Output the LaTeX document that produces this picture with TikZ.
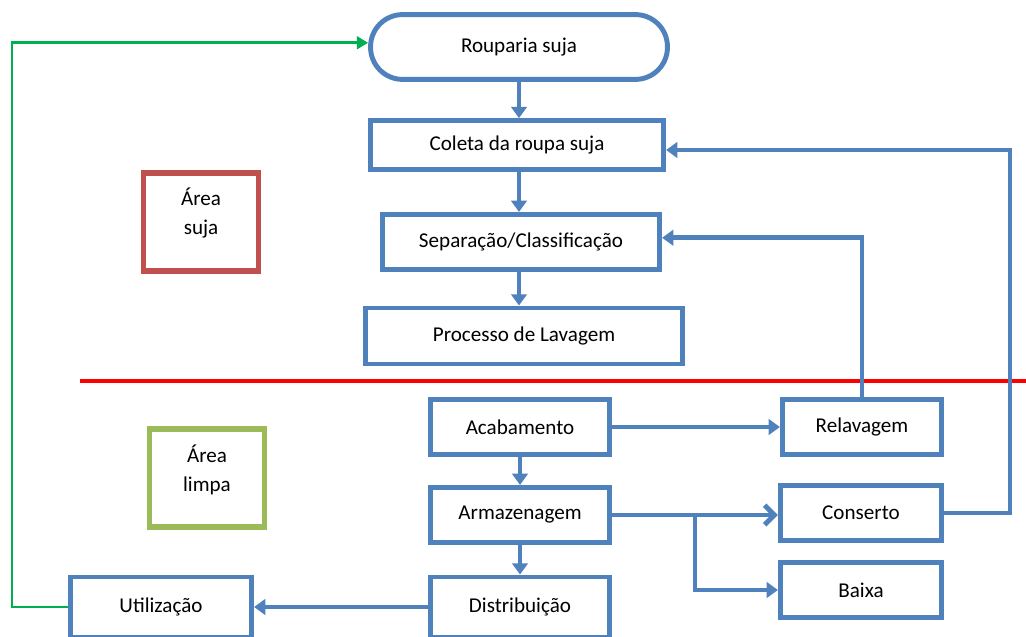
\documentclass[tikz,border=0pt]{standalone}
\usepackage{fontspec}
\setmainfont{Carlito}
\usetikzlibrary{arrows.meta}
\definecolor{flowblue}{HTML}{4F81BD}
\definecolor{sujared}{HTML}{C0504D}
\definecolor{limpagreen}{HTML}{9BBB59}
\definecolor{backgreen}{HTML}{00B050}
\tikzset{
  etapa/.style={draw=flowblue, line width=3.5pt, fill=white, align=center,
    font=\fontsize{15}{18}\selectfont, minimum height=1.38cm},
  area/.style={line width=3.8pt, minimum width=2.88cm, minimum height=2.45cm},
  areatexto/.style={align=center, font=\fontsize{15}{21}\selectfont},
  seta/.style={draw=flowblue, line width=3.5pt, -{Triangle[length=8pt,width=11pt]}},
  linha/.style={draw=flowblue, line width=3.5pt},
}
\begin{document}
\begin{tikzpicture}[x=0.025cm,y=-0.025cm]
            \useasboundingbox (0,0) rectangle (1026,637);

            \node[etapa, rounded corners=0.8cm, minimum width=7.42cm, minimum height=1.62cm] (roup) at (519,47) {Rouparia suja};
            \node[etapa, minimum width=7.33cm, minimum height=1.22cm] (col) at (517,145) {Coleta da roupa suja};
            \node[etapa, minimum width=6.93cm] (sep) at (521,242) {Separação/Classificação};
            \node[etapa, minimum width=7.93cm, minimum height=1.4cm] (lav) at (524,336) {Processo de Lavagem};

            \node[etapa, minimum width=4.48cm] (acab) at (520,427) {Acabamento};
            \node[etapa, minimum width=3.98cm] (relav) at (862,427) {Relavagem};
            \node[etapa, minimum width=4.48cm] (arm) at (520,515) {Armazenagem};
            \node[etapa, minimum width=4.03cm] (cons) at (861,513) {Conserto};
            \node[etapa, minimum width=4.03cm] (baixa) at (861,590) {Baixa};
            \node[etapa, minimum width=4.48cm, minimum height=1.5cm] (dist) at (520,607) {Distribuição};
            \node[etapa, minimum width=4.53cm, minimum height=1.5cm] (util) at (161,607) {Utilização};

            \node[area, draw=sujared] (suja) at (201,222) {};
            \node[areatexto] (sujatxt) at (201,213) {Área\\suja};
            \node[area, draw=limpagreen] (limpa) at (207,478) {};
            \node[areatexto] (limpatxt) at (207,470) {Área\\limpa};

            \draw[red, line width=3.5pt] (80,381) -- (1026,381);

            \coordinate (dir) at (1010,150);
            \coordinate (ram) at (695,515);
            \coordinate (esq) at (12,607);

            \draw[seta] (roup.south) -- (roup.south |- col.north);
            \draw[seta] (roup.south |- col.south) -- (roup.south |- sep.north);
            \draw[seta] (roup.south |- sep.south) -- (roup.south |- lav.north);
            \draw[seta] (acab)--(arm);
            \draw[seta] (arm)--(dist);
            \draw[seta] (acab)--(relav);
            \draw[seta] (dist)--(util);
            \draw[seta] (relav.north) |- ([yshift=3pt]sep.east);
            \draw[seta] (cons.east) -| (dir) -- (dir -| col.east);
            \draw[linha, -{Straight Barb[length=7pt,width=14pt]}] (arm.east) -- (arm.east -| cons.west);
            \draw[seta] (ram) |- (baixa.west);
            \draw[backgreen, line width=2pt, -{Triangle[length=8pt,width=9pt]}] (util.west) -- (esq) |- ([yshift=3pt]roup.west);
        \end{tikzpicture}
\end{document}
